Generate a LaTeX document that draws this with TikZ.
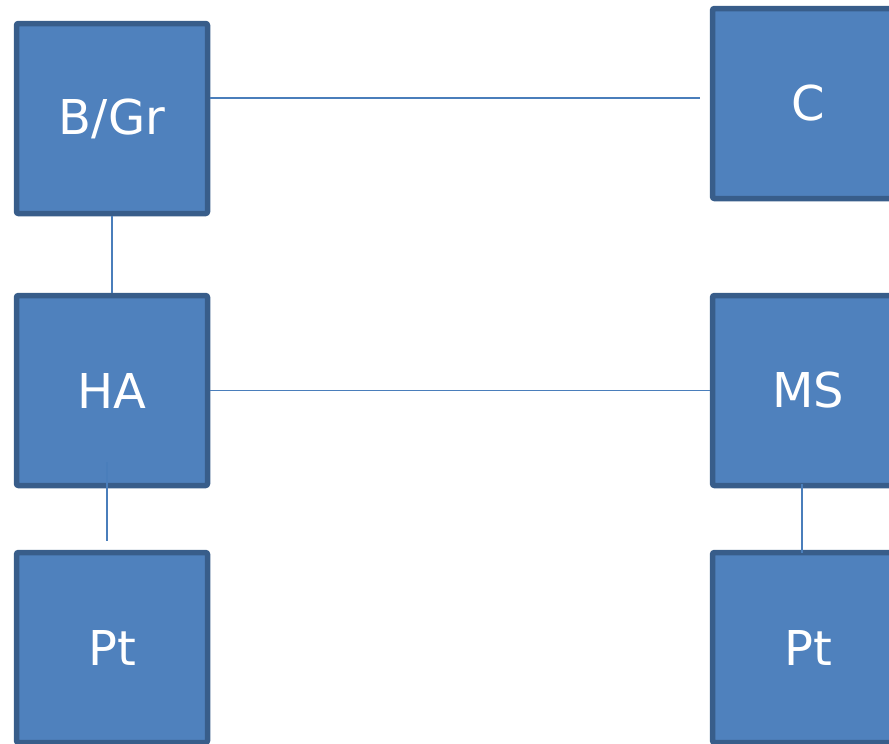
\documentclass[tikz,border=0pt]{standalone}
\usepackage{fontspec}
\setmainfont{DejaVu Sans}
\definecolor{boxfill}{HTML}{4F81BD}
\definecolor{boxedge}{HTML}{385D8A}
\definecolor{linkcol}{HTML}{4A7EBB}
\begin{document}
\begin{tikzpicture}[x=1pt,y=-1pt,
  box/.style={draw=boxedge, fill=boxfill, line width=5.5pt, rounded corners=2pt,
    minimum width=191pt, minimum height=190pt, inner sep=0pt, text=white,
    font=\fontsize{48}{58}\selectfont},
  link/.style={draw=linkcol, line width=1.8pt}]
\useasboundingbox (0,0) rectangle (889,744);
\begin{scope}
\clip (0,0) rectangle (889,744);
\node[box] (bgr) at (112,118.5) {B/Gr};
\node[box] (c) at (808,103.5) {C};
\node[box] (ha) at (112,390.5) {HA};
\node[box] (ms) at (808,390.5) {MS};
\node[box] (ptl) at (112,647.5) {Pt};
\node[box] (ptr) at (808,647.5) {Pt};
\coordinate (cend) at (700,98);
\coordinate (hatop) at (107,462);
\coordinate (ptltop) at (107,541);
\coordinate (msbot) at (802,484);
\coordinate (ptrtop) at (802,553);
\draw[link] (bgr.east |- cend) -- (cend);
\draw[link] (bgr.south) -- (ha.north);
\draw[link] (ha.east) -- (ms.west);
\draw[link] (hatop) -- (ptltop);
\draw[link] (msbot) -- (ptrtop);
\end{scope}
\end{tikzpicture}
\end{document}
